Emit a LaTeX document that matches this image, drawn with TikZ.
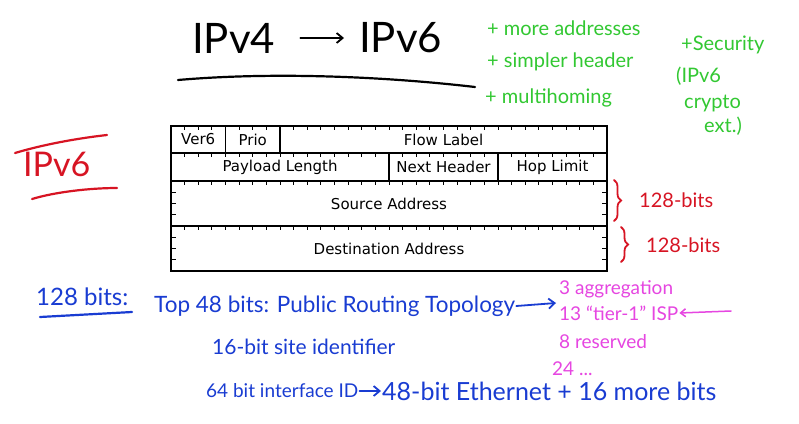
\documentclass[tikz,border=0pt]{standalone}
\usepackage{fontspec}
\setmainfont{DejaVu Sans}
\newfontfamily\hand{Lato}
\usetikzlibrary{arrows.meta,decorations.pathreplacing,calc}
\definecolor{inkgreen}{RGB}{50,200,50}
\definecolor{inkred}{RGB}{215,20,35}
\definecolor{inkblue}{RGB}{25,60,210}
\definecolor{inkmag}{RGB}{230,70,225}
\begin{document}
\begin{tikzpicture}[x=1pt,y=-1pt,
  field/.style={draw,line width=1.3pt,inner sep=0pt,font=\fontsize{15}{17}\selectfont},
  tickl/.style={line width=0.8pt},
  ink/.style={line width=2.2pt,line cap=round},
  htext/.style={inner sep=1pt,anchor=west,font=\hand\fontsize{#1}{#1}\selectfont},
  htext/.default=20,
  harrow/.style={line width=1.8pt,line cap=round,-{Straight Barb[length=6pt,width=10pt]}},
]
\useasboundingbox (0,0) rectangle (799,423);
\fill[white] (0,0) rectangle (799,423);

% ---------- title ----------
\node[htext=42,text=black] (t4) at (191,38) {IPv4};
\node[htext=42,text=black] (t6) at (358,38) {IPv6};
\draw[harrow,black,shorten <=24pt,shorten >=14pt] (t4.east) -- (t6.west);
\coordinate (ulA) at (178,80);
\coordinate (ulB) at (475,87);
\draw[ink,black] (ulA) .. controls (270,72) and (380,76) .. (ulB);

% ---------- green notes ----------
\node[htext,text=inkgreen] (g1) at (486,28) {+ more addresses};
\node[htext,text=inkgreen] (g2) at (486,62) {+ simpler header};
\node[htext,text=inkgreen] (g3) at (484,98) {+ multihoming};
\node[htext,text=inkgreen] (g4) at (680,45) {+Security};
\node[htext,text=inkgreen] (g5) at (675,76) {(IPv6};
\node[htext,text=inkgreen] (g6) at (683,104) {crypto};
\node[htext,text=inkgreen] (g7) at (703,126) {ext.)};

% ---------- red IPv6 label ----------
\node[htext=34,text=inkred] (r6) at (22,164) {IPv6};
\coordinate (rl1a) at (15,153); \coordinate (rl1b) at (107,135);
\coordinate (rl2a) at (32,199); \coordinate (rl2b) at (117,188);
\draw[ink,inkred] (rl1a) .. controls (45,144) and (80,138) .. (rl1b);
\draw[ink,inkred] (rl2a) .. controls (55,192) and (90,188) .. (rl2b);

% ---------- header table ----------
\def\b{13.625}
\node[field,minimum width=54.5pt,minimum height=27pt] (ver) at (198.25,139.5) {Ver6};
\node[field,minimum width=54.5pt,minimum height=27pt] (prio) at (252.75,139.5) {Prio};
\node[field,minimum width=327pt,minimum height=27pt] (flow) at (443.5,139.5) {\raisebox{-4pt}{Flow Label}};
\node[field,minimum width=218pt,minimum height=28pt] (pay) at (280,167) {\raisebox{-3pt}{Payload Length}};
\node[field,minimum width=109pt,minimum height=28pt] (nh) at (443.5,167) {\raisebox{-3pt}{Next Header}};
\node[field,minimum width=109pt,minimum height=28pt] (hop) at (552.5,167) {\raisebox{-3pt}{Hop Limit}};
\node[field,minimum width=436pt,minimum height=45pt] (src) at (389,203.5) {Source Address};
\node[field,minimum width=436pt,minimum height=45pt] (dst) at (389,248.5) {Destination Address};
\draw[line width=2pt] (171,126) rectangle (607,271);
\foreach \y in {126,153,181,226}
  \foreach \i in {1,...,31}
    \draw[tickl] (171+\i*\b,\y) -- ++(0,4);
\foreach \y in {181,226}
  \foreach \k in {1,2,3}{
    \draw[tickl] (171,\y+\k*11.25) -- ++(5,0);
    \draw[tickl] (607,\y+\k*11.25) -- ++(-5,0);
  }

% ---------- red braces ----------
\draw[ink,line width=1.8pt,inkred,decorate,decoration={brace,amplitude=7pt}] (614,180) -- (614,221);
\node[htext=20,text=inkred] (b1) at (638,200) {128-bits};
\draw[ink,line width=1.8pt,inkred,decorate,decoration={brace,amplitude=7pt}] (621,227) -- (621,262);
\node[htext=20,text=inkred] (b2) at (645,245) {128-bits};

% ---------- blue notes ----------
\node[htext=24,text=inkblue] (bits) at (35,297) {128 bits:};
\coordinate (bua) at (40,317); \coordinate (bub) at (132,312);
\draw[ink,inkblue] (bua) -- (bub);
\node[htext=22.5,text=inkblue] (topo) at (153,306) {Top 48 bits: Public Routing Topology};
\coordinate (topoend) at (556,303);
\draw[harrow,inkblue] (topo.east) -- (topoend);
\node[htext=21,text=inkblue] (site) at (211,347) {16-bit site identifier};
\node[htext=19,text=inkblue] (iid) at (205,391) {64 bit interface ID};
\node[htext=25,text=inkblue] (eth) at (381,391) {48-bit Ethernet + 16 more bits};
\draw[harrow,inkblue] (iid.east) -- (eth.west);

% ---------- magenta notes ----------
\node[htext=19,text=inkmag] (m1) at (558,289) {3 aggregation};
\node[htext=19,text=inkmag] (m2) at (558,313) {13 “tier-1” ISP};
\coordinate (ispend) at (731,311);
\draw[harrow,line width=1.5pt,inkmag,{Straight Barb[length=5pt,width=8pt]}-] (m2.east) -- (ispend);
\node[htext=19,text=inkmag] (m3) at (558,342) {8 reserved};
\node[htext=19,text=inkmag] (m4) at (551,369) {24 ...};
\end{tikzpicture}
\end{document}
